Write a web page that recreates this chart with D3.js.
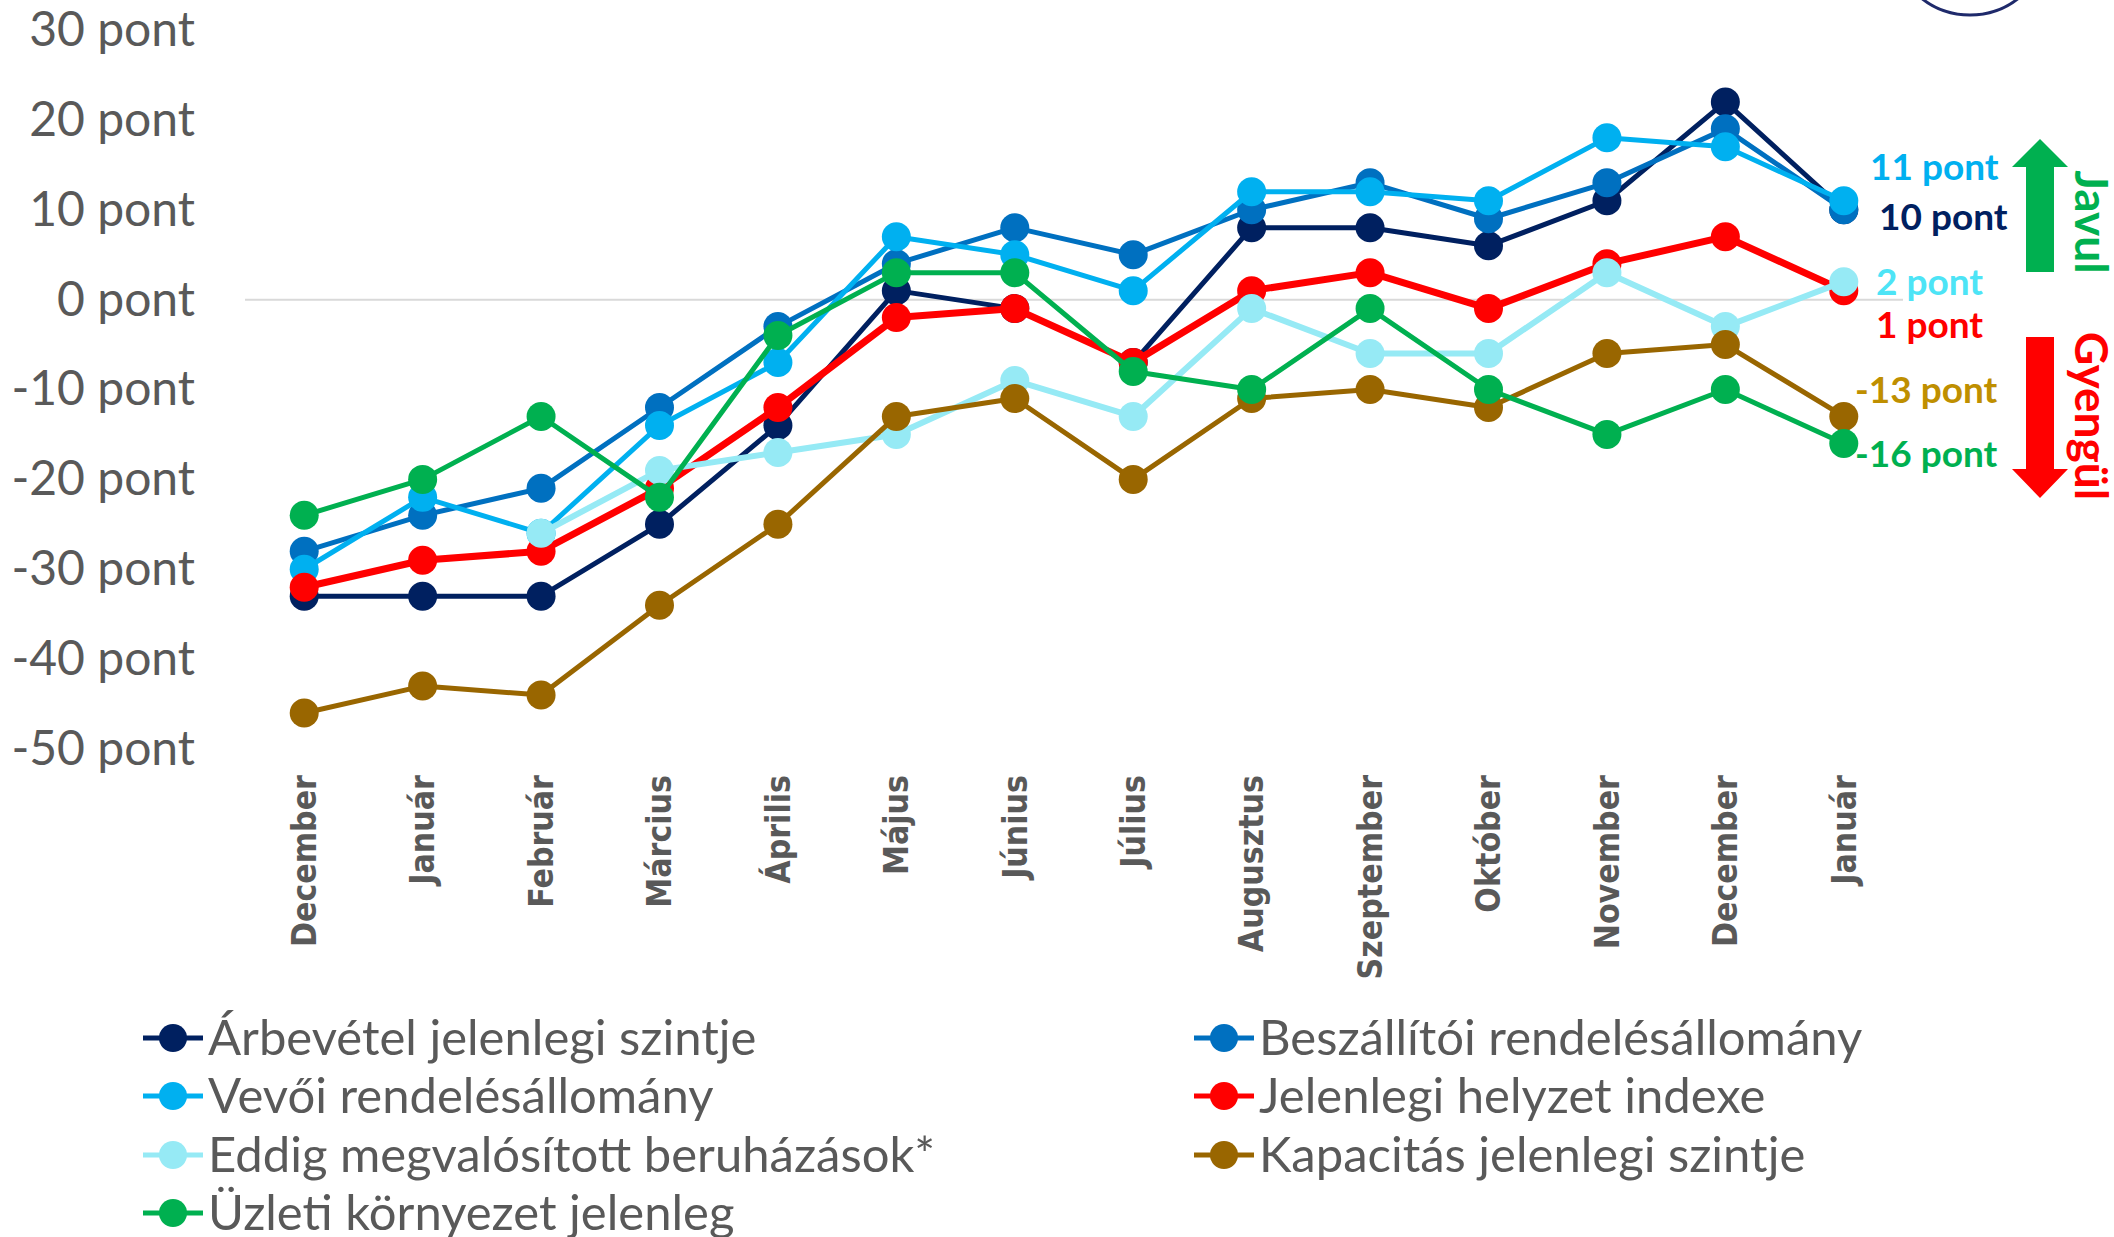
<!DOCTYPE html>
<html>
<head>
<meta charset="utf-8">
<script src="https://cdn.jsdelivr.net/npm/d3@7"></script>
<style>
  body { margin: 0; background: #fff; }
  svg { display: block; }
</style>
</head>
<body>
<div id="chart"></div>
<script>
// months on the x axis (two years overlap, so positions go by index)
var months = ["December", "Január", "Február", "Március", "Április", "Május", "Június",
  "Július", "Augusztus", "Szeptember", "Október", "November", "December", "Január"];

var yTicks = [30, 20, 10, 0, -10, -20, -30, -40, -50];

// series values
var arbevetel   = [-33, -33, -33, -25, -14, 1, -1, -7, 8, 8, 6, 11, 22, 10];
var beszallitoi = [-28, -24, -21, -12, -3, 4, 8, 5, 10, 13, 9, 13, 19, 10];
var vevoi       = [-30, -22, -26, -14, -7, 7, 5, 1, 12, 12, 11, 18, 17, 11];
var jelenlegi   = [-32, -29, -28, -21, -12, -2, -1, -7, 1, 3, -1, 4, 7, 1];
var eddig       = [null, null, -26, -19, -17, -15, -9, -13, -1, -6, -6, 3, -3, 2];
var kapacitas   = [-46, -43, -44, -34, -25, -13, -11, -20, -11, -10, -12, -6, -5, -13];
var uzleti      = [-24, -20, -13, -22, -4, 3, 3, -8, -10, -1, -10, -15, -10, -16];

var seriesNames = ["Árbevétel jelenlegi szintje", "Beszállítói rendelésállomány",
  "Vevői rendelésállomány", "Jelenlegi helyzet indexe",
  "Eddig megvalósított beruházások*", "Kapacitás jelenlegi szintje",
  "Üzleti környezet jelenleg"];
var seriesValues = [arbevetel, beszallitoi, vevoi, jelenlegi, eddig, kapacitas, uzleti];
var seriesColors = ["#002060", "#0070C0", "#00B0F0", "#FF0000", "#96EAF5", "#996600", "#00B050"];

var svgWidth = 2114;
var svgHeight = 1237;

var margin = { top: 30, right: 211, bottom: 488, left: 245 };
var width = svgWidth - margin.left - margin.right;
var height = svgHeight - margin.top - margin.bottom;

var svg = d3.select("#chart")
  .append("svg")
  .attr("width", svgWidth)
  .attr("height", svgHeight)
  .style("background", "#fff");

var chartGroup = svg.append("g")
  .attr("transform", `translate(${margin.left}, ${margin.top})`);

// scales
var xScale = d3.scaleBand()
  .domain(d3.range(months.length))
  .range([0, width])
  .padding(0);

var yScale = d3.scaleLinear()
  .domain([-50, 30])
  .range([height, 0]);

var cx = i => xScale(i) + xScale.bandwidth() / 2;

// zero line
chartGroup.append("line")
  .attr("x1", 0).attr("x2", width)
  .attr("y1", yScale(0)).attr("y2", yScale(0))
  .attr("stroke", "#d9d9d9")
  .attr("stroke-width", 2);

// y axis
var yAxis = d3.axisLeft(yScale)
  .tickValues(yTicks)
  .tickSize(0)
  .tickPadding(50)
  .tickFormat(d => d + " pont");

chartGroup.append("g")
  .call(yAxis)
  .call(g => g.select(".domain").remove())
  .selectAll("text")
  .attr("font-family", "Lato, 'Open Sans', sans-serif")
  .attr("font-size", "48px")
  .attr("fill", "#595959");

// x axis, labels turned up
var xAxis = d3.axisBottom(xScale)
  .tickSize(0)
  .tickFormat(i => months[i]);

chartGroup.append("g")
  .attr("transform", `translate(0, ${height})`)
  .call(xAxis)
  .call(g => g.select(".domain").remove())
  .selectAll("text")
  .attr("transform", "rotate(-90)")
  .attr("x", -26)
  .attr("y", 0)
  .attr("dy", "0.35em")
  .attr("text-anchor", "end")
  .attr("font-family", "'DejaVu Sans Condensed', 'DejaVu Sans', sans-serif")
  .attr("font-weight", "bold")
  .attr("font-size", "33.5px")
  .attr("fill", "#595959");

// lines and markers
var line = d3.line()
  .defined(d => d != null)
  .x((d, i) => cx(i))
  .y(d => yScale(d));

var lineWidths = [5, 5, 5, 7, 6, 5, 5];

seriesValues.forEach(function(vals, s) {
  var g = chartGroup.append("g");
  g.append("path")
    .datum(vals)
    .attr("fill", "none")
    .attr("stroke", seriesColors[s])
    .attr("stroke-width", lineWidths[s])
    .attr("stroke-linejoin", "round")
    .attr("d", line);
  g.selectAll("circle")
    .data(vals.map((v, i) => ({ v: v, i: i })).filter(d => d.v != null))
    .enter()
    .append("circle")
    .attr("cx", d => cx(d.i))
    .attr("cy", d => yScale(d.v))
    .attr("r", 14.5)
    .attr("fill", seriesColors[s]);
});

// end-of-line labels (value taken from the last point of each series)
var endLabels = [
  { s: 2, x: 1870, y: 167, color: "#00B0F0" },
  { s: 0, x: 1879, y: 217, color: "#002060" },
  { s: 4, x: 1876, y: 282, color: "#4DE4F6" },
  { s: 3, x: 1876, y: 325, color: "#FF0000" },
  { s: 5, x: 1855, y: 390, color: "#BF8F00" },
  { s: 6, x: 1855, y: 454, color: "#00B050" }
];

svg.append("g")
  .selectAll("text")
  .data(endLabels)
  .enter()
  .append("text")
  .attr("x", d => d.x)
  .attr("y", d => d.y)
  .attr("dy", "0.35em")
  .attr("font-family", "Lato, 'Open Sans', sans-serif")
  .attr("font-weight", "bold")
  .attr("font-size", "37px")
  .attr("fill", d => d.color)
  .text(d => seriesValues[d.s][seriesValues[d.s].length - 1] + " pont");

// arrows: better up, worse down
svg.append("path")
  .attr("d", "M2040,139 L2068,167 L2054,167 L2054,272 L2026,272 L2026,167 L2012,167 Z")
  .attr("fill", "#00B050");
svg.append("path")
  .attr("d", "M2040,498 L2068,469 L2054,469 L2054,337 L2026,337 L2026,469 L2012,469 Z")
  .attr("fill", "#FF0000");

svg.append("text")
  .attr("transform", "translate(2075, 222) rotate(90)")
  .attr("text-anchor", "middle")
  .attr("font-family", "Lato, 'Open Sans', sans-serif")
  .attr("font-weight", "bold")
  .attr("font-size", "46px")
  .attr("fill", "#00B050")
  .text("Javul");

svg.append("text")
  .attr("transform", "translate(2075, 416) rotate(90)")
  .attr("text-anchor", "middle")
  .attr("font-family", "Lato, 'Open Sans', sans-serif")
  .attr("font-weight", "bold")
  .attr("font-size", "46px")
  .attr("fill", "#FF0000")
  .text("Gyengül");

// bit of the logo peeking in at the top right
svg.append("ellipse")
  .attr("cx", 1970).attr("cy", -58)
  .attr("rx", 76).attr("ry", 73)
  .attr("fill", "none")
  .attr("stroke", "#1F2A6B")
  .attr("stroke-width", 3);

// legend, two columns
var legendRowY = [1038, 1096, 1155, 1213];
var legendColX = [143, 1194];

var legend = svg.append("g")
  .selectAll("g")
  .data(seriesNames)
  .enter()
  .append("g")
  .attr("transform", (d, i) => `translate(${legendColX[i % 2]}, ${legendRowY[Math.floor(i / 2)]})`);

legend.append("line")
  .attr("x1", 0).attr("x2", 60)
  .attr("stroke", (d, i) => seriesColors[i])
  .attr("stroke-width", 5);

legend.append("circle")
  .attr("cx", 30)
  .attr("r", 14)
  .attr("fill", (d, i) => seriesColors[i]);

legend.append("text")
  .attr("x", 65)
  .attr("dy", "0.35em")
  .attr("font-family", "Lato, 'Open Sans', sans-serif")
  .attr("font-size", "49px")
  .attr("fill", "#595959")
  .text(d => d);
</script>
</body>
</html>
